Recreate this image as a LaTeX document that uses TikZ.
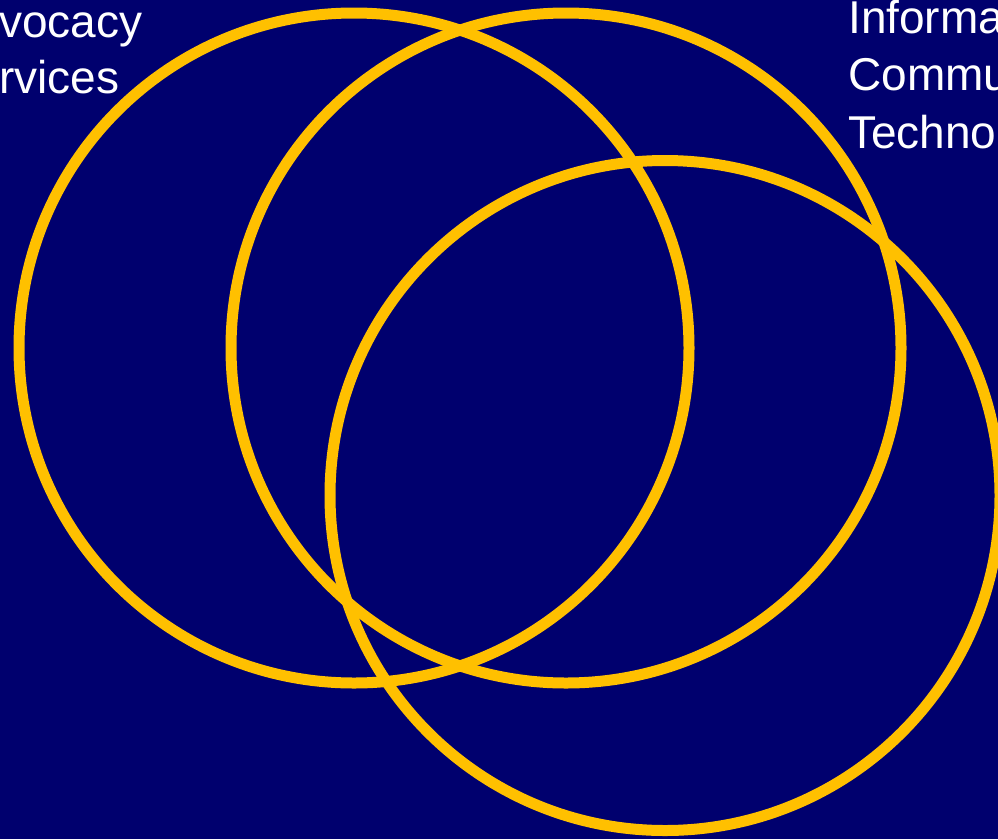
\documentclass[tikz,border=0pt]{standalone}
\usepackage{fontspec}
\setmainfont{Liberation Sans}
\definecolor{navybg}{RGB}{0,0,110}
\definecolor{ringgold}{RGB}{255,192,0}
\begin{document}
\begin{tikzpicture}[x=1pt,y=-1pt,
  ring/.style={draw=ringgold,line width=11pt},
  lbl/.style={text=white,inner sep=0pt,anchor=base west,font=\fontsize{46}{57}\selectfont}]
\useasboundingbox (0,0) rectangle (998,839);
\clip (0,0) rectangle (998,839);
\fill[navybg] (0,0) rectangle (998,839);
\node[lbl] (adv1) at (-1,37) {vocacy};
\node[lbl] (adv2) at (-1,93) {rvices};
\node[lbl] (ict1) at (848,33) {Informa};
\node[lbl] (ict2) at (848,90.5) {Commu};
\node[lbl] (ict3) at (848,148) {Techno};
\draw[ring] (354,348) circle[radius=335];
\draw[ring] (566,348) circle[radius=335];
\draw[ring] (665,495.5) circle[radius=335];
\end{tikzpicture}
\end{document}
